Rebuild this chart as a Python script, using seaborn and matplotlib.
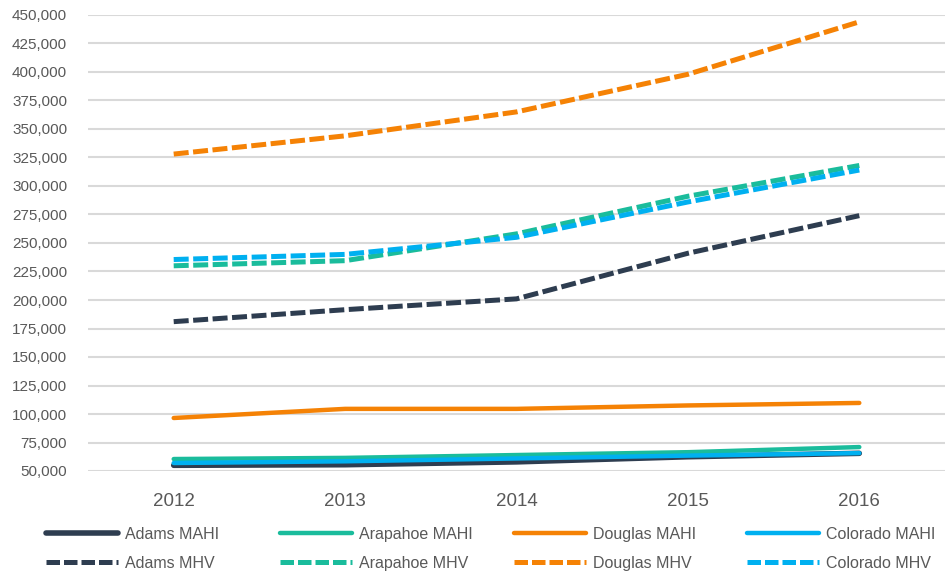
import matplotlib
matplotlib.use("Agg")
from matplotlib import pyplot as plt
from matplotlib.lines import Line2D
import seaborn as sns
import pandas as pd

years = ["2012", "2013", "2014", "2015", "2016"]

# median annual household income
adams_mahi = [55000, 55500, 58000, 62500, 65500]
arapahoe_mahi = [60500, 61500, 64000, 66500, 71000]
douglas_mahi = [96500, 104500, 104500, 107500, 109700]
colorado_mahi = [57000, 58500, 61000, 63500, 65700]

# median home value
adams_mhv = [181000, 191500, 201000, 241000, 274000]
arapahoe_mhv = [230000, 234500, 258000, 291000, 318000]
douglas_mhv = [328000, 344000, 365000, 398000, 444000]
colorado_mhv = [235500, 240000, 255000, 286000, 314000]

series = [
    ("Adams MAHI", adams_mahi, "#2E3D50", "-", 4.0),
    ("Arapahoe MAHI", arapahoe_mahi, "#1ABC9C", "-", 3.2),
    ("Douglas MAHI", douglas_mahi, "#F58205", "-", 3.2),
    ("Colorado MAHI", colorado_mahi, "#00B0F0", "-", 3.2),
    ("Adams MHV", adams_mhv, "#2E3D50", "--", 3.6),
    ("Arapahoe MHV", arapahoe_mhv, "#1ABC9C", "--", 3.6),
    ("Douglas MHV", douglas_mhv, "#F58205", "--", 3.6),
    ("Colorado MHV", colorado_mhv, "#00B0F0", "--", 3.6),
]

sns.set_style("white")
plt.rcParams['font.family'] = ['Liberation Sans', 'DejaVu Sans']
text_col = "#595959"

fig = plt.figure(figsize=(9.49, 5.78), dpi=100)
ax = fig.add_axes([88 / 949, 107 / 578, 857 / 949, 456 / 578])

pos = list(range(len(years)))
handles = {}
for name, vals, col, ls, lw in series:
    df = pd.DataFrame({"pos": pos, "value": vals})
    sns.lineplot(data=df, x="pos", y="value", ax=ax, color=col, linewidth=lw)
    ln = ax.lines[-1]
    if ls == "--":
        ln.set_dashes((3, 0.9))
        ln.set_dash_capstyle("butt")
    else:
        ln.set_solid_capstyle("round")
    handles[name] = Line2D([0], [0], color=col, linewidth=lw,
                           linestyle=ls if ls == "-" else (0, (2.7, 0.8)),
                           solid_capstyle="round")

ax.set_xlim(-0.5, 4.5)
ax.set_ylim(50000, 450000)
ax.set_yticks(range(50000, 450001, 25000))
ax.set_yticklabels([f"{v:,}" for v in range(50000, 450001, 25000)],
                   fontsize=11, color=text_col)
ax.set_xticks(pos)
ax.set_xticklabels(years, fontsize=13.5, color=text_col)
ax.tick_params(axis="y", length=0, pad=15)
ax.tick_params(axis="x", length=0, pad=16)
ax.set_xlabel("")
ax.set_ylabel("")
ax.grid(axis="y", color="#D9D9D9", linewidth=1.5)
ax.set_axisbelow(True)
for s in ax.spines.values():
    s.set_visible(False)

# one small legend per county so the columns sit at fixed places
columns = [("Adams MAHI", "Adams MHV"), ("Arapahoe MAHI", "Arapahoe MHV"),
           ("Douglas MAHI", "Douglas MHV"), ("Colorado MAHI", "Colorado MHV")]
col_x = [46, 280, 514, 747]
for cx, names in zip(col_x, columns):
    leg = fig.legend([handles[n] for n in names], names,
                     loc="upper left", bbox_to_anchor=(cx / 949, 1 - 527 / 578),
                     frameon=False, fontsize=11.5, handlelength=4.5,
                     handletextpad=0.45, labelspacing=0.85,
                     borderpad=0, borderaxespad=0)
    for t in leg.get_texts():
        t.set_color(text_col)

fig.savefig("out.png", dpi=100)
